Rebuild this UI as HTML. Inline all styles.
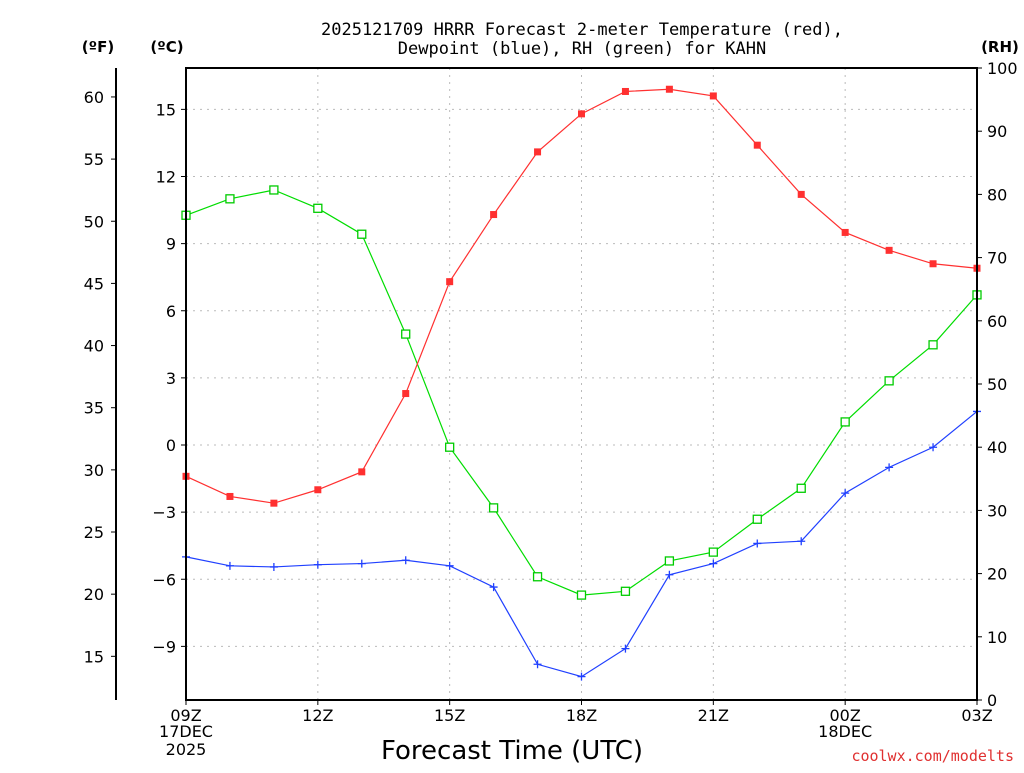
<!DOCTYPE html>
<html><head><meta charset="utf-8"><style>
body{margin:0;background:#fff;}
svg text{font-family:"DejaVu Sans","Liberation Sans",sans-serif;}
svg text.mono{font-family:"DejaVu Sans Mono","Liberation Mono",monospace;}
</style></head><body>
<svg id="chart" width="1024" height="768" xmlns="http://www.w3.org/2000/svg">
<g id="grid"></g>
<g id="series"></g>
<g id="axes"></g>
<text class="mono" x="582" y="35" text-anchor="middle" font-size="17">2025121709 HRRR Forecast 2-meter Temperature (red),</text>
<text class="mono" x="582" y="54" text-anchor="middle" font-size="17">Dewpoint (blue), RH (green) for KAHN</text>
<text x="98" y="52" text-anchor="middle" font-size="15" font-weight="bold">(ºF)</text>
<text x="167" y="52" text-anchor="middle" font-size="15" font-weight="bold">(ºC)</text>
<text x="1000" y="52" text-anchor="middle" font-size="15" font-weight="bold">(RH)</text>
<text x="512" y="759" text-anchor="middle" font-size="26">Forecast Time (UTC)</text>
<text class="mono" x="1014" y="761" text-anchor="end" font-size="15" fill="#e03030">coolwx.com/modelts</text>
</svg>
<script>
const hours=[9,10,11,12,13,14,15,16,17,18,19,20,21,22,23,24,25,26,27];
const tempC=[-1.4,-2.3,-2.6,-2.0,-1.2,2.3,7.3,10.3,13.1,14.8,15.8,15.9,15.6,13.4,11.2,9.5,8.7,8.1,7.9];
const dewC=[-5.0,-5.4,-5.45,-5.35,-5.3,-5.15,-5.4,-6.35,-9.8,-10.35,-9.1,-5.8,-5.3,-4.4,-4.3,-2.15,-1.0,-0.1,1.5];
const rh=[76.7,79.3,80.7,77.8,73.7,57.9,40.0,30.4,19.5,16.6,17.2,22.0,23.4,28.6,33.5,44.0,50.5,56.2,64.1];
const cTicks=[-9,-6,-3,0,3,6,9,12,15];
const fTicks=[15,20,25,30,35,40,45,50,55,60];
const rhTicks=[0,10,20,30,40,50,60,70,80,90,100];
const xTickHours=[9,12,15,18,21,24,27];
const xTickLabels=["09Z","12Z","15Z","18Z","21Z","00Z","03Z"];

const NS="http://www.w3.org/2000/svg";
const L=186,R=977,T=68,B=700;
const x=h=>L+(h-9)*(R-L)/18;
const yC=c=>445-c*22.375;
const yF=f=>yC((f-32)*5/9);
const yRH=r=>B-r*(B-T)/100;
function mk(tag,attrs,parent,txt){const e=document.createElementNS(NS,tag);for(const k in attrs)e.setAttribute(k,attrs[k]);if(txt!==undefined)e.textContent=txt;document.getElementById(parent).appendChild(e);return e;}

cTicks.forEach(c=>{const l=mk('line',{x1:L,x2:R,y1:yC(c),y2:yC(c),stroke:'#bbb','stroke-dasharray':'2,5'},'grid');

});
xTickHours.slice(1,-1).forEach(h=>{const l=mk('line',{x1:x(h),x2:x(h),y1:T,y2:B,stroke:'#bbb','stroke-dasharray':'2,5'},'grid');

});

const frame=mk('rect',{x:L,y:T,width:R-L,height:B-T,fill:'none',stroke:'#000','stroke-width':2},'axes');


const fax=mk('line',{x1:116,x2:116,y1:T,y2:B,stroke:'#000','stroke-width':2},'axes');


cTicks.forEach(c=>{mk('line',{x1:L-5,x2:L,y1:yC(c),y2:yC(c),stroke:'#000'},'axes');
const t=mk('text',{x:L-10,y:yC(c)+6,'text-anchor':'end','font-size':16},'axes',c<0?'\u2212'+(-c):String(c));

});
fTicks.forEach(f=>{mk('line',{x1:111,x2:116,y1:yF(f),y2:yF(f),stroke:'#000'},'axes');
const t=mk('text',{x:104,y:yF(f)+6,'text-anchor':'end','font-size':16},'axes',String(f));

});
rhTicks.forEach(r=>{mk('line',{x1:R,x2:R+5,y1:yRH(r),y2:yRH(r),stroke:'#000'},'axes');
const t=mk('text',{x:R+10,y:yRH(r)+6,'text-anchor':'start','font-size':16},'axes',String(r));

});
xTickHours.forEach((h,i)=>{mk('line',{x1:x(h),x2:x(h),y1:B,y2:B+5,stroke:'#000'},'axes');
const t=mk('text',{x:x(h),y:B+21,'text-anchor':'middle','font-size':16},'axes',xTickLabels[i]);

});
[["17DEC",x(9),737],["2025",x(9),755],["18DEC",x(24),737]].forEach(d=>{const t=mk('text',{x:d[1],y:d[2],'text-anchor':'middle','font-size':16},'axes',d[0]);

});

function line(vals,yf,color,name){const pts=vals.map((v,i)=>x(hours[i])+','+yf(v)).join(' ');
const p=mk('polyline',{points:pts,fill:'none',stroke:color,'stroke-width':1.2},'series');

}
line(rh,yRH,'#00dd00','rh-line');
line(tempC,yC,'#ff3030','temperature-line');
line(dewC,yC,'#2040ff','dewpoint-line');
rh.forEach((v,i)=>{const m=mk('rect',{x:x(hours[i])-4,y:yRH(v)-4,width:8,height:8,fill:'#fff',stroke:'#00cc00','stroke-width':1.3},'series');

});
tempC.forEach((v,i)=>{const m=mk('rect',{x:x(hours[i])-3.5,y:yC(v)-3.5,width:7,height:7,fill:'#ff3030'},'series');

});
dewC.forEach((v,i)=>{const cx=x(hours[i]),cy=yC(v);
const m=mk('path',{d:`M${cx-4},${cy}H${cx+4}M${cx},${cy-4}V${cy+4}`,stroke:'#2040ff','stroke-width':1.3},'series');

});
</script>
</body></html>
